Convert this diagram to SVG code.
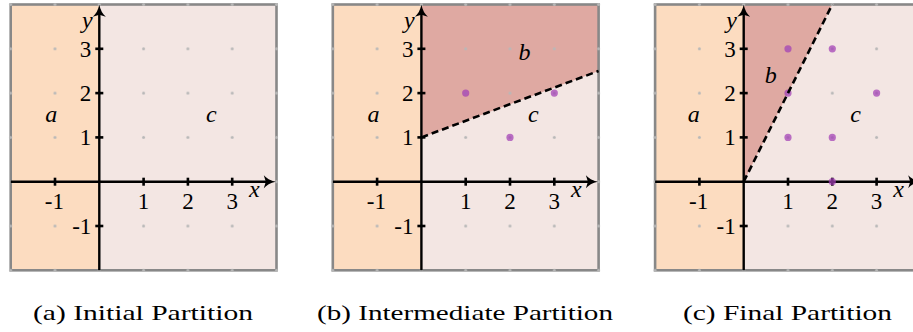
<svg xmlns="http://www.w3.org/2000/svg" xmlns:xlink="http://www.w3.org/1999/xlink" width="913" height="332" viewBox="0 0 913 332">
<style>
.fa{fill:#FCDCC0}
.fc{fill:#F3E6E3}
.fb{fill:#DFA9A2}
.frame{fill:none;stroke:#888888;stroke-width:2.6}
.ax{stroke:#000;stroke-width:2.4;fill:none}
.tk{fill:#000}
.dash{stroke:#000;stroke-width:2.6;stroke-dasharray:7 4;fill:none}
.pt{fill:#A23FB5;fill-opacity:0.72}
.num{font-family:"Liberation Serif",serif;font-size:23px;fill:#000}
.it{font-family:"Liberation Serif",serif;font-style:italic;font-size:24px;fill:#000;text-anchor:middle}
.cap{font-family:"Liberation Serif",serif;font-size:22px;fill:#000;text-anchor:middle}
</style>
<defs>
<pattern id="grid" patternUnits="userSpaceOnUse" x="-22.15" y="-22.15" width="44.3" height="44.3">
<circle cx="22.15" cy="22.15" r="1.5" fill="#b8b8b8"/>
</pattern>
<g id="axes">
<line class="ax" x1="-88.6" y1="0" x2="172" y2="0"/>
<line class="ax" x1="0" y1="88.6" x2="0" y2="-172"/>
<path class="tk" d="M176.5,0 C171,-1.2 167,-3.5 164.5,-6.5 L166.5,0 L164.5,6.5 C167,3.5 171,1.2 176.5,0Z"/>
<path class="tk" d="M0,-177 C-1.2,-171.5 -3.5,-167.5 -6.5,-165 L0,-167 L6.5,-165 C3.5,-167.5 1.2,-171.5 0,-177Z"/>
<rect class="tk" x="-45.6" y="-4" width="2.6" height="8"/>
<rect class="tk" x="43" y="-4" width="2.6" height="8"/>
<rect class="tk" x="87.3" y="-4" width="2.6" height="8"/>
<rect class="tk" x="131.6" y="-4" width="2.6" height="8"/>
<rect class="tk" x="-4" y="-134.2" width="8" height="2.6"/>
<rect class="tk" x="-4" y="-89.9" width="8" height="2.6"/>
<rect class="tk" x="-4" y="-45.6" width="8" height="2.6"/>
<rect class="tk" x="-4" y="43" width="8" height="2.6"/>
<text class="num" x="-45" y="27" text-anchor="middle">-1</text>
<text class="num" x="44.3" y="27" text-anchor="middle">1</text>
<text class="num" x="88.6" y="27" text-anchor="middle">2</text>
<text class="num" x="132.9" y="27" text-anchor="middle">3</text>
<text class="num" x="-8" y="-125" text-anchor="end">3</text>
<text class="num" x="-8" y="-81" text-anchor="end">2</text>
<text class="num" x="-8" y="-37" text-anchor="end">1</text>
<text class="num" x="-8" y="52" text-anchor="end">-1</text>
<text class="it" x="-12" y="-154">y</text>
<text class="it" x="155" y="15">x</text>
</g>
</defs>

<g id="panel-a" transform="translate(99.3,181.7)">
<rect class="fa" x="-88.6" y="-177.2" width="88.6" height="265.8"/>
<rect class="fc" x="0" y="-177.2" width="177.2" height="265.8"/>
<rect class="frame" x="-88.6" y="-177.2" width="265.8" height="265.8"/>
<rect fill="url(#grid)" x="-110" y="-199" width="310" height="310"/>
<use xlink:href="#axes" href="#axes"/>
<text class="it" x="-48" y="-60">a</text>
<text class="it" x="112" y="-60">c</text>
</g>

<g id="panel-b" transform="translate(421.4,181.7)">
<rect class="fa" x="-88.6" y="-177.2" width="88.6" height="265.8"/>
<rect class="fc" x="0" y="-177.2" width="177.2" height="265.8"/>
<polygon class="fb" points="0,-44.3 0,-177.2 177.2,-177.2 177.2,-110.75"/>
<rect class="frame" x="-88.6" y="-177.2" width="265.8" height="265.8"/>
<rect fill="url(#grid)" x="-110" y="-199" width="310" height="310"/>
<use xlink:href="#axes" href="#axes"/>
<g id="points-b">
<circle class="pt" cx="44.3" cy="-88.6" r="3.6"/>
<circle class="pt" cx="88.6" cy="-44.3" r="3.6"/>
<circle class="pt" cx="132.9" cy="-88.6" r="3.6"/>
</g>
<line class="dash" x1="0" y1="-44.3" x2="177.2" y2="-110.75"/>
<text class="it" x="-48" y="-60">a</text>
<text class="it" x="103" y="-122">b</text>
<text class="it" x="112" y="-60">c</text>
</g>

<g id="panel-c" transform="translate(743.7,181.7)">
<rect class="fa" x="-88.6" y="-177.2" width="88.6" height="265.8"/>
<rect class="fc" x="0" y="-177.2" width="177.2" height="265.8"/>
<polygon class="fb" points="0,0 0,-177.2 88.6,-177.2"/>
<rect class="frame" x="-88.6" y="-177.2" width="265.8" height="265.8"/>
<rect fill="url(#grid)" x="-110" y="-199" width="310" height="310"/>
<use xlink:href="#axes" href="#axes"/>
<g id="points-c">
<circle class="pt" cx="44.3" cy="-132.9" r="3.6"/>
<circle class="pt" cx="88.6" cy="-132.9" r="3.6"/>
<circle class="pt" cx="44.3" cy="-88.6" r="3.6"/>
<circle class="pt" cx="132.9" cy="-88.6" r="3.6"/>
<circle class="pt" cx="44.3" cy="-44.3" r="3.6"/>
<circle class="pt" cx="88.6" cy="-44.3" r="3.6"/>
<circle class="pt" cx="88.6" cy="0" r="3.6"/>
</g>
<line class="dash" x1="0" y1="0" x2="88.6" y2="-177.2"/>
<text class="it" x="-50" y="-60">a</text>
<text class="it" x="27" y="-99">b</text>
<text class="it" x="112" y="-60">c</text>
</g>

<g id="captions">
<text class="cap" x="143" y="320" textLength="220" lengthAdjust="spacingAndGlyphs">(a) Initial Partition</text>
<text class="cap" x="465" y="320" textLength="296" lengthAdjust="spacingAndGlyphs">(b) Intermediate Partition</text>
<text class="cap" x="787.5" y="320" textLength="209" lengthAdjust="spacingAndGlyphs">(c) Final Partition</text>
</g>
</svg>
